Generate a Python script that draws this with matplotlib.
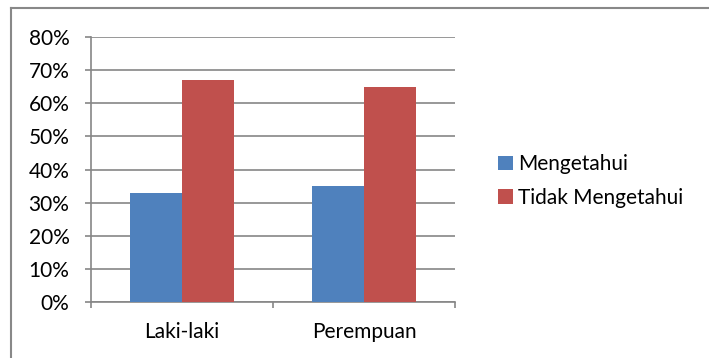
import matplotlib
matplotlib.use("Agg")
import matplotlib.pyplot as plt
import numpy as np
from matplotlib.lines import Line2D
from matplotlib.patches import Patch
from matplotlib.ticker import FixedLocator, FuncFormatter

categories = ["Laki-laki", "Perempuan"]
series_names = ["Mengetahui", "Tidak Mengetahui"]
mengetahui = [0.33, 0.35]
tidak_mengetahui = [0.67, 0.65]
yticks = [0, 0.1, 0.2, 0.3, 0.4, 0.5, 0.6, 0.7, 0.8]

colors = ["#4F81BD", "#C0504D"]
grid_c = "#868686"
font = "Lato"
fs = 15

W, H = 709, 358
fig = plt.figure(figsize=(W / 100, H / 100), dpi=100)
ax = fig.add_axes([91 / W, 1 - 302 / H, (455 - 91) / W, (302 - 37) / H])

x = np.arange(len(categories))
bw = 1 / 3.5
ax.bar(x - bw / 2, mengetahui, bw, color=colors[0], zorder=3)
ax.bar(x + bw / 2, tidak_mengetahui, bw, color=colors[1], zorder=3)

ax.set_xlim(-0.5, len(categories) - 0.5)
ax.set_ylim(0, 0.8)
ax.set_yticks(yticks)
ax.yaxis.set_major_formatter(FuncFormatter(lambda v, p: f"{v*100:.0f}%"))
ax.grid(axis="y", color=grid_c, linewidth=1.2, zorder=0)

ax.xaxis.set_major_locator(FixedLocator([-0.5, 0.5, 1.5]))
ax.xaxis.set_minor_locator(FixedLocator(list(x)))
ax.set_xticklabels([])
ax.set_xticklabels(categories, minor=True)
ax.tick_params(axis="x", which="major", length=4.5, color=grid_c, width=1.2, direction="out")
ax.tick_params(axis="x", which="minor", length=4.5, width=0, pad=10, labelsize=fs)
ax.tick_params(axis="y", length=4.5, color=grid_c, width=1.2, labelsize=fs, pad=11)
for lbl in ax.get_xticklabels(minor=True) + ax.get_yticklabels():
    lbl.set_fontfamily(font)
    lbl.set_color("#000000")

for s in ["top", "right"]:
    ax.spines[s].set_visible(False)
for s in ["left", "bottom"]:
    ax.spines[s].set_color(grid_c)
    ax.spines[s].set_linewidth(1.2)

handles = [Patch(facecolor=c) for c in colors]
leg = fig.legend(handles, series_names, loc="center left",
                 bbox_to_anchor=(498 / W, 1 - 181 / H), frameon=False,
                 prop={"family": font, "size": fs}, handlelength=0.72,
                 handleheight=0.72, handletextpad=0.25, labelspacing=0.65,
                 borderpad=0, borderaxespad=0)

# outer chart border
fig.add_artist(Line2D([10.5 / W, 10.5 / W], [0, 1 - 8 / H], color="#888888", linewidth=1.5))
fig.add_artist(Line2D([10.5 / W, 1], [1 - 8 / H, 1 - 8 / H], color="#888888", linewidth=1.5))

fig.savefig("out.png", dpi=100)
